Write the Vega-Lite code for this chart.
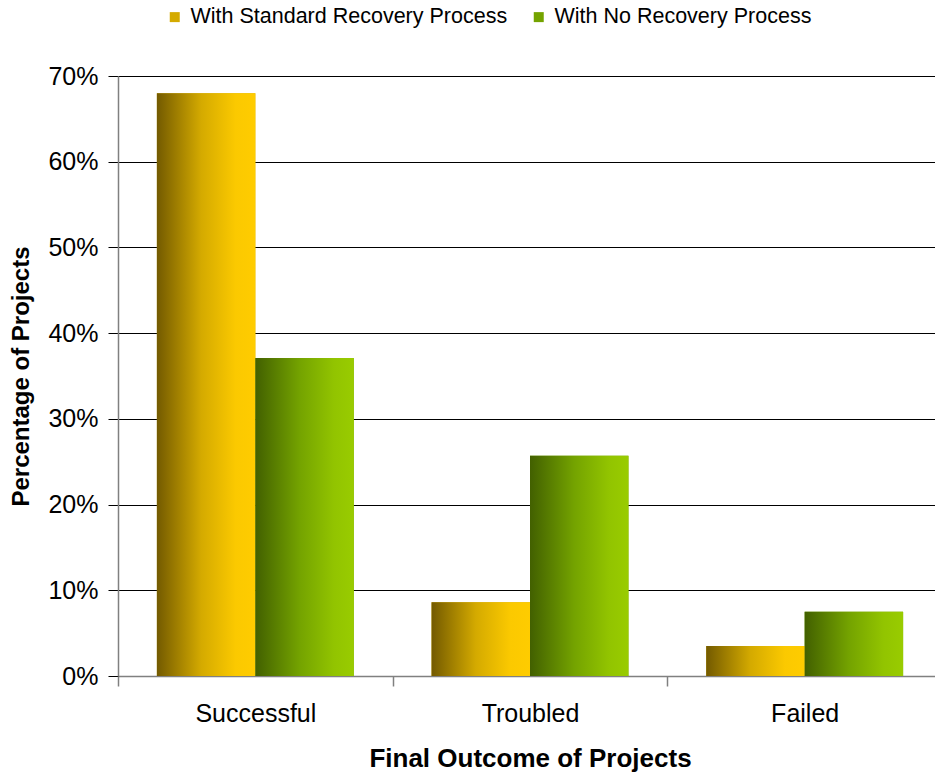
{
  "$schema": "https://vega.github.io/schema/vega-lite/v6.json",
  "autosize": "none",
  "width": 817,
  "height": 600,
  "padding": {"left": 118, "top": 76, "right": 0, "bottom": 97},
  "background": "white",
  "config": {
    "font": "Liberation Sans",
    "view": {"stroke": null}
  },
  "data": {
    "values": [
      {"outcome": "Successful", "series": "With Standard Recovery Process", "pct": 0.68},
      {"outcome": "Successful", "series": "With No Recovery Process", "pct": 0.371},
      {"outcome": "Troubled", "series": "With Standard Recovery Process", "pct": 0.086},
      {"outcome": "Troubled", "series": "With No Recovery Process", "pct": 0.257},
      {"outcome": "Failed", "series": "With Standard Recovery Process", "pct": 0.035},
      {"outcome": "Failed", "series": "With No Recovery Process", "pct": 0.075}
    ]
  },
  "encoding": {
    "x": {
      "field": "outcome",
      "type": "nominal",
      "sort": ["Successful", "Troubled", "Failed"],
      "scale": {"range": [0, 824], "paddingInner": 0, "paddingOuter": 0},
      "axis": {
        "title": "Final Outcome of Projects",
        "titleFontSize": 26,
        "titleFontWeight": "bold",
        "titleColor": "#000000",
        "titlePadding": 19,
        "labelAngle": 0,
        "labelFontSize": 25,
        "labelColor": "#000000",
        "labelPadding": 15,
        "tickBand": "extent",
        "tickSize": 10,
        "tickColor": "#808080",
        "tickWidth": 1.5,
        "domainColor": "#808080",
        "domainWidth": 1.5,
        "grid": false
      }
    },
    "xOffset": {
      "field": "series",
      "type": "nominal",
      "sort": ["With Standard Recovery Process", "With No Recovery Process"],
      "scale": {"paddingInner": 0, "paddingOuter": 0.395}
    },
    "y": {
      "field": "pct",
      "type": "quantitative",
      "scale": {"domain": [0, 0.7], "nice": false},
      "axis": {
        "title": "Percentage of Projects",
        "titleFontSize": 24,
        "titleFontWeight": "bold",
        "titleColor": "#000000",
        "titlePadding": 14,
        "format": ".0%",
        "values": [0, 0.1, 0.2, 0.3, 0.4, 0.5, 0.6, 0.7],
        "labelFontSize": 25,
        "labelColor": "#000000",
        "labelPadding": 10,
        "tickSize": 10,
        "tickColor": "#000000",
        "domainColor": "#808080",
        "domainWidth": 1.5,
        "grid": true,
        "gridColor": "#000000",
        "gridWidth": 1
      }
    }
  },
  "layer": [
    {
      "mark": {"type": "bar", "strokeWidth": 0},
      "encoding": {
        "fill": {
          "field": "series",
          "type": "nominal",
          "scale": {
            "domain": ["With Standard Recovery Process", "With No Recovery Process"],
            "range": ["#d4aa00", "#74a300"]
          },
          "legend": {
            "title": null,
            "orient": "none",
            "direction": "horizontal",
            "legendX": 46,
            "legendY": -70,
            "symbolType": "square",
            "symbolSize": 100,
            "symbolStrokeWidth": 0,
            "labelFontSize": 21.5,
            "labelColor": "#000000",
            "labelLimit": 0,
            "labelOffset": 5,
            "columnPadding": 20
          }
        }
      }
    },
    {
      "transform": [{"filter": "datum.series === 'With Standard Recovery Process'"}],
      "mark": {
        "type": "bar",
        "strokeWidth": 0,
        "fill": {"gradient": "linear", "x1": 0, "y1": 0, "x2": 1, "y2": 0,
          "stops": [{"offset": 0, "color": "#735a00"}, {"offset": 0.45, "color": "#d4aa00"}, {"offset": 0.8, "color": "#fbc900"}, {"offset": 1, "color": "#ffcc00"}]}
      }
    },
    {
      "transform": [{"filter": "datum.series === 'With No Recovery Process'"}],
      "mark": {
        "type": "bar",
        "strokeWidth": 0,
        "fill": {"gradient": "linear", "x1": 0, "y1": 0, "x2": 1, "y2": 0,
          "stops": [{"offset": 0, "color": "#426000"}, {"offset": 0.45, "color": "#74a300"}, {"offset": 0.8, "color": "#92c400"}, {"offset": 1, "color": "#99cc00"}]}
      }
    }
  ]
}
